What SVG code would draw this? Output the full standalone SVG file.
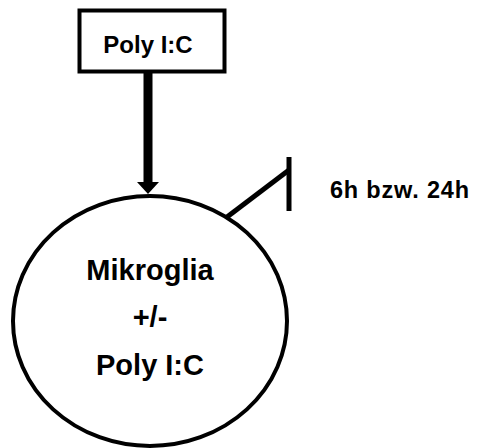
<svg xmlns="http://www.w3.org/2000/svg" width="478" height="448" viewBox="0 0 478 448">
<style>
text{font-family:"Liberation Sans",Arial,sans-serif;font-weight:bold;fill:#000}
.c{text-anchor:middle}
.big{font-size:29px}
</style>
<rect width="478" height="448" fill="#fff"/>
<g id="polyic">
<rect x="79.5" y="10.5" width="145" height="61" fill="#fff" stroke="#000" stroke-width="4"/>
<text class="c" x="148" y="53" font-size="24">Poly I:C</text>
</g>
<g id="mikroglia">
<ellipse cx="150" cy="321" rx="137" ry="125" fill="#fff" stroke="#000" stroke-width="4"/>
<text class="c big" x="150" y="280">Mikroglia</text>
<text class="c big" x="150" y="327">+/-</text>
<text class="c big" x="150" y="375">Poly I:C</text>
</g>
<g id="time">
<text x="330" y="198" font-size="23.5" letter-spacing="0.8">6h bzw. 24h</text>
</g>
<g id="connectors">
<line x1="148" y1="72" x2="148" y2="184" stroke="#000" stroke-width="9"/>
<polygon points="137,182 159,182 148,194" fill="#000"/>
<line x1="227" y1="217" x2="289" y2="170" stroke="#000" stroke-width="5"/>
<line x1="289" y1="157" x2="289" y2="211" stroke="#000" stroke-width="5"/>
</g>
</svg>
